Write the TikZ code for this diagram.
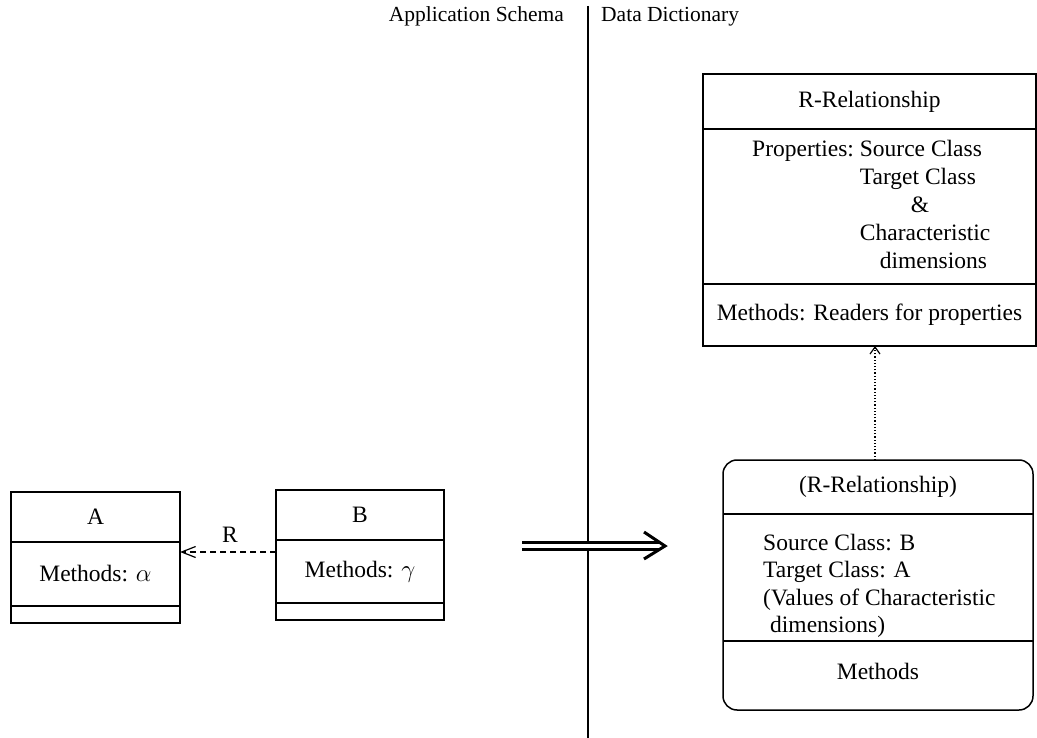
\documentclass[tikz,border=0pt]{standalone}
\usepackage{fontspec}
\setmainfont{Liberation Serif}
\usetikzlibrary{arrows.meta,calc}
\begin{document}
\begin{tikzpicture}[x=1pt,y=-1pt,
  cell/.style={draw, line width=1.5pt, inner sep=0pt, outer sep=0pt, anchor=north west,
    font=\fontsize{23.5}{28}\selectfont},
  txt/.style={inner sep=0pt, font=\fontsize{23.5}{28}\selectfont},
  hdr/.style={inner sep=0pt, font=\fontsize{21.5}{26}\selectfont}]
\useasboundingbox (0,0) rectangle (1037,738);

% divider line and headers
\coordinate (vt) at (588,6);
\coordinate (vb) at (588,738);
\draw[line width=2pt] (vt) -- (vb);
\node[hdr, anchor=base east] (hApp) at (564,22) {Application Schema};
\node[hdr, anchor=base west] (hDD) at (601,22) {Data Dictionary};

% class A
\node[cell, minimum width=169pt, minimum height=50pt] (Atitle) at (11,492) {A};
\node[cell, minimum width=169pt, minimum height=64pt, anchor=north] (Ameth) at (Atitle.south) {Methods: $\alpha$};
\node[cell, minimum width=169pt, minimum height=17pt, anchor=north] (Aend) at (Ameth.south) {};

% class B
\node[cell, minimum width=168pt, minimum height=50pt] (Btitle) at (276,490) {B};
\node[cell, minimum width=168pt, minimum height=63pt, anchor=north] (Bmeth) at (Btitle.south) {Methods: $\gamma$};
\node[cell, minimum width=168pt, minimum height=17pt, anchor=north] (Bend) at (Bmeth.south) {};

% relationship R
\coordinate (ry) at (0,552);
\draw[line width=1.2pt, dash pattern=on 6pt off 4pt,
  -{Straight Barb[length=14pt,width=11pt,line width=1.2pt]}]
  (Bmeth.west |- ry) -- (Ameth.east |- ry);
\node[txt] (Rlab) at (230,535) {R};

% big double arrow
\coordinate (ds) at (522,546);
\coordinate (de) at (665,546);
\draw[line width=3pt, double, double distance=4pt] (ds) -- ($(de)+(-5,0)$);
\draw[line width=3pt, miter limit=10] ($(de)+(-21,-14)$) -- (de) -- ($(de)+(-21,13)$);

% R-Relationship class
\node[cell, minimum width=333pt, minimum height=55pt] (Rt) at (703,74) {R-Relationship};
\node[cell, minimum width=333pt, minimum height=155pt, anchor=north] (Rp) at (Rt.south) {};
\node[cell, minimum width=333pt, minimum height=62pt, anchor=north] (Rm) at (Rp.south) {Methods: Readers for properties};
\node[txt, anchor=base west] (Rptext) at (752,157) {%
  \begin{tabular}[t]{@{}l@{\ }l@{}}
  Properties: & Source Class\\
  & Target Class\\
  & \hspace{51pt}\&\\
  & Characteristic\\
  & \hspace{20pt}dimensions
  \end{tabular}};

% instance (R-Relationship)
\node[draw, line width=1.5pt, rounded corners=14pt, minimum width=310pt,
  minimum height=250pt, anchor=north west, inner sep=0pt, outer sep=0pt] (Ri) at (723,460) {};
\coordinate (d1) at ($(Ri.north west)+(0,54)$);
\coordinate (d2) at ($(Ri.north west)+(0,181)$);
\draw[line width=1.5pt] (d1) -- (d1 -| Ri.east);
\draw[line width=1.5pt] (d2) -- (d2 -| Ri.east);
\node[txt] (Rit) at ($(Ri.north)+(0,27)$) {(R-Relationship)};
\node[txt, anchor=base west] (Ritext) at (763,550) {%
  \fontsize{23.5}{27.5}\selectfont
  \begin{tabular}[t]{@{}l@{}}
  Source Class: B\\
  Target Class: A\\
  (Values of Characteristic\\
  \hspace{7pt}dimensions)
  \end{tabular}};
\node[txt] (Rim) at ($(Ri.south)+(0,-39)$) {Methods};

% instance-of arrow
\draw[line width=1.2pt, dotted, -{Straight Barb[length=7pt,width=10pt,line width=1.2pt]}]
  ($(Ri.north)+(-3,0)$) -- ($(Ri.north |- Rm.south)+(-3,0)$);
\end{tikzpicture}
\end{document}
